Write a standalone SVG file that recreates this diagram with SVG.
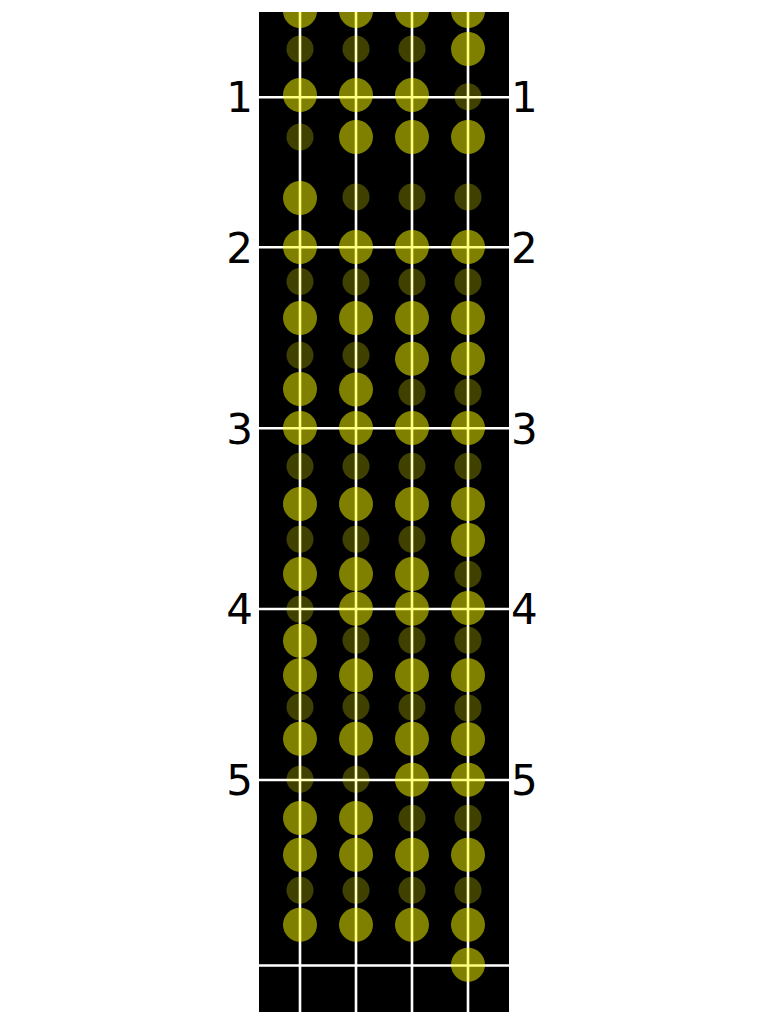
<svg xmlns="http://www.w3.org/2000/svg" width="768" height="1024" viewBox="0 0 768 1024">
<defs>
<style>
.ln{stroke:#fff;stroke-width:2.6;fill:none}
.b{fill:#ffff00;fill-opacity:0.5}
.s{fill:#ffff00;fill-opacity:0.25}
.lbl{font-family:"DejaVu Sans",sans-serif;font-size:42px;fill:#000}
</style>
<clipPath id="cp"><rect x="259" y="12" width="250" height="1000"/></clipPath>
</defs>
<rect width="768" height="1024" fill="#fff"/>
<rect id="board" x="259" y="12" width="250" height="1000" fill="#000"/>
<g id="grid" class="ln" clip-path="url(#cp)">
<line x1="300" y1="12" x2="300" y2="1012"/>
<line x1="356" y1="12" x2="356" y2="1012"/>
<line x1="412" y1="12" x2="412" y2="1012"/>
<line x1="468" y1="12" x2="468" y2="1012"/>
<line x1="259" y1="97.3" x2="509" y2="97.3"/>
<line x1="259" y1="247.3" x2="509" y2="247.3"/>
<line x1="259" y1="428.3" x2="509" y2="428.3"/>
<line x1="259" y1="609" x2="509" y2="609"/>
<line x1="259" y1="780" x2="509" y2="780"/>
<line x1="259" y1="965.5" x2="509" y2="965.5"/>
</g>
<g id="dots" clip-path="url(#cp)">
<circle class="b" cx="300" cy="11" r="17"/><circle class="b" cx="356" cy="11" r="17"/><circle class="b" cx="412" cy="11" r="17"/><circle class="b" cx="468" cy="11" r="17"/>
<circle class="s" cx="300" cy="49" r="13.5"/><circle class="s" cx="356" cy="49" r="13.5"/><circle class="s" cx="412" cy="49" r="13.5"/><circle class="b" cx="468" cy="49" r="17"/>
<circle class="b" cx="300" cy="95" r="17"/><circle class="b" cx="356" cy="95" r="17"/><circle class="b" cx="412" cy="95" r="17"/><circle class="s" cx="468" cy="96.7" r="13.5"/>
<circle class="s" cx="300" cy="137" r="13.5"/><circle class="b" cx="356" cy="137" r="17"/><circle class="b" cx="412" cy="137" r="17"/><circle class="b" cx="468" cy="137" r="17"/>
<circle class="b" cx="300" cy="198" r="17"/><circle class="s" cx="356" cy="197" r="13.5"/><circle class="s" cx="412" cy="197" r="13.5"/><circle class="s" cx="468" cy="197" r="13.5"/>
<circle class="b" cx="300" cy="247" r="17"/><circle class="b" cx="356" cy="247" r="17"/><circle class="b" cx="412" cy="247" r="17"/><circle class="b" cx="468" cy="247" r="17"/>
<circle class="s" cx="300" cy="281.5" r="13.5"/><circle class="s" cx="356" cy="282" r="13.5"/><circle class="s" cx="412" cy="282" r="13.5"/><circle class="s" cx="468" cy="282" r="13.5"/>
<circle class="b" cx="300" cy="318" r="17"/><circle class="b" cx="356" cy="318" r="17"/><circle class="b" cx="412" cy="318" r="17"/><circle class="b" cx="468" cy="318" r="17"/>
<circle class="s" cx="300" cy="355.3" r="13.5"/><circle class="s" cx="356" cy="355.3" r="13.5"/><circle class="b" cx="412" cy="358.7" r="17"/><circle class="b" cx="468" cy="358.7" r="17"/>
<circle class="b" cx="300" cy="389" r="17"/><circle class="b" cx="356" cy="389.5" r="17"/><circle class="s" cx="412" cy="392.3" r="13.5"/><circle class="s" cx="468" cy="392.3" r="13.5"/>
<circle class="b" cx="300" cy="428" r="17"/><circle class="b" cx="356" cy="428" r="17"/><circle class="b" cx="412" cy="428" r="17"/><circle class="b" cx="468" cy="428" r="17"/>
<circle class="s" cx="300" cy="466.3" r="13.5"/><circle class="s" cx="356" cy="466.3" r="13.5"/><circle class="s" cx="412" cy="466.3" r="13.5"/><circle class="s" cx="468" cy="466.3" r="13.5"/>
<circle class="b" cx="300" cy="504" r="17"/><circle class="b" cx="356" cy="504" r="17"/><circle class="b" cx="412" cy="504" r="17"/><circle class="b" cx="468" cy="504" r="17"/>
<circle class="s" cx="300" cy="539.3" r="13.5"/><circle class="s" cx="356" cy="539.3" r="13.5"/><circle class="s" cx="412" cy="539.3" r="13.5"/><circle class="b" cx="468" cy="540" r="17"/>
<circle class="b" cx="300" cy="574" r="17"/><circle class="b" cx="356" cy="574" r="17"/><circle class="b" cx="412" cy="574" r="17"/><circle class="s" cx="468" cy="574.3" r="13.5"/>
<circle class="s" cx="300" cy="609.3" r="13.5"/><circle class="b" cx="356" cy="608.7" r="17"/><circle class="b" cx="412" cy="608.7" r="17"/><circle class="b" cx="468" cy="608" r="17"/>
<circle class="b" cx="300" cy="640.7" r="17"/><circle class="s" cx="356" cy="640.3" r="13.5"/><circle class="s" cx="412" cy="640.3" r="13.5"/><circle class="s" cx="468" cy="640.3" r="13.5"/>
<circle class="b" cx="300" cy="675.3" r="17"/><circle class="b" cx="356" cy="675.3" r="17"/><circle class="b" cx="412" cy="675.3" r="17"/><circle class="b" cx="468" cy="675.3" r="17"/>
<circle class="s" cx="300" cy="707" r="13.5"/><circle class="s" cx="356" cy="706.5" r="13.5"/><circle class="s" cx="412" cy="707" r="13.5"/><circle class="s" cx="468" cy="708" r="13.5"/>
<circle class="b" cx="300" cy="738.7" r="17"/><circle class="b" cx="356" cy="738.7" r="17"/><circle class="b" cx="412" cy="738.7" r="17"/><circle class="b" cx="468" cy="739.3" r="17"/>
<circle class="s" cx="300" cy="779.3" r="13.5"/><circle class="s" cx="356" cy="779.3" r="13.5"/><circle class="b" cx="412" cy="779.7" r="17"/><circle class="b" cx="468" cy="779.7" r="17"/>
<circle class="b" cx="300" cy="818" r="17"/><circle class="b" cx="356" cy="818" r="17"/><circle class="s" cx="412" cy="818.3" r="13.5"/><circle class="s" cx="468" cy="818.3" r="13.5"/>
<circle class="b" cx="300" cy="854.7" r="17"/><circle class="b" cx="356" cy="854.7" r="17"/><circle class="b" cx="412" cy="854.7" r="17"/><circle class="b" cx="468" cy="854.7" r="17"/>
<circle class="s" cx="300" cy="890.3" r="13.5"/><circle class="s" cx="356" cy="890.3" r="13.5"/><circle class="s" cx="412" cy="890.3" r="13.5"/><circle class="s" cx="468" cy="890.3" r="13.5"/>
<circle class="b" cx="300" cy="924.7" r="17"/><circle class="b" cx="356" cy="924.7" r="17"/><circle class="b" cx="412" cy="924.7" r="17"/><circle class="b" cx="468" cy="924.7" r="17"/>
<circle class="b" cx="468" cy="964.7" r="17"/>
</g>
<g id="labels-left" class="lbl" text-anchor="end">
<text x="253" y="112">1</text>
<text x="253" y="262.5">2</text>
<text x="253" y="443.5">3</text>
<text x="253" y="624">4</text>
<text x="253" y="795">5</text>
</g>
<g id="labels-right" class="lbl" text-anchor="start">
<text x="511" y="112">1</text>
<text x="511" y="262.5">2</text>
<text x="511" y="443.5">3</text>
<text x="511" y="624">4</text>
<text x="511" y="795">5</text>
</g>
</svg>
